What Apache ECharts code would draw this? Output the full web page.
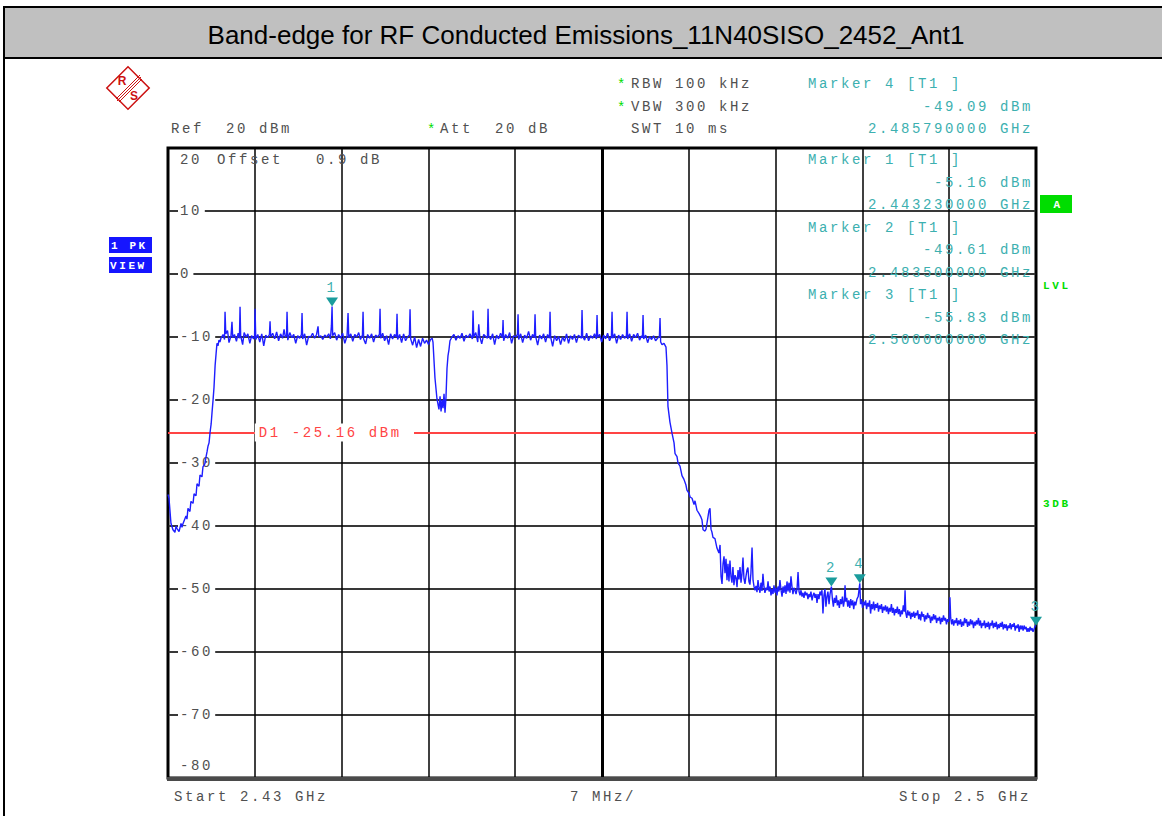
<!DOCTYPE html>
<html>
<head>
<meta charset="utf-8">
<title>Band-edge for RF Conducted Emissions_11N40SISO_2452_Ant1</title>
<script src="https://cdn.jsdelivr.net/npm/echarts@6/dist/echarts.min.js"></script>
<style>
  html, body { margin: 0; padding: 0; background: #fff; }
  #chart { width: 1162px; height: 816px; }
  /* analyzer screen font is a widely spaced courier */
  #chart text[style*="Liberation Mono"] { letter-spacing: 2.6px; }
</style>
</head>
<body>
<div id="chart"></div>
<script>
var titleText = 'Band-edge for RF Conducted Emissions_11N40SISO_2452_Ant1';

// sweep settings
var startGHz = 2.43;
var stopGHz = 2.5;
var spanMHz = 70;
var divMHz = 7;
var refLevel = 20;
var bottomLevel = -80;
var divDb = 10;
var displayLine = -25.16;

// trace 1 (PK): [offset from start, MHz], [level, dBm]
var trace = [
  [0.00,-35.0],[0.08,-35.6],[0.24,-39.6],[0.40,-40.6],[0.56,-41.0],[0.65,-40.0],[0.73,-40.4],[0.89,-40.9],
  [1.05,-39.6],[1.13,-40.2],[1.20,-39.7],[1.45,-38.4],[1.53,-38.9],[1.61,-37.2],[1.77,-37.7],[1.85,-36.1],
  [2.02,-36.4],[2.10,-34.9],[2.26,-35.2],[2.34,-33.3],[2.50,-33.7],[2.58,-31.9],[2.74,-32.2],[2.82,-30.6],
  [2.98,-30.1],[3.06,-29.1],[3.15,-28.2],[3.23,-27.3],[3.31,-26.8],[3.40,-25.0],[3.48,-23.8],[3.55,-22.0],
  [3.63,-20.1],[3.71,-18.0],[3.80,-14.5],[3.88,-12.6],[3.95,-11.0],[4.03,-11.4],[4.11,-10.5],[4.19,-10.8],
  // first block
  [4.27,-10.2],[4.44,-9.6],[4.56,-10.4],[4.60,-6.0],[4.66,-9.5],[4.80,-9.0],[4.92,-10.9],[5.08,-9.8],
  [5.16,-7.6],[5.22,-10.1],[5.36,-9.6],[5.52,-10.7],[5.66,-9.4],[5.76,-10.2],[5.81,-5.2],[5.86,-9.8],
  [6.02,-11.2],[6.14,-9.3],[6.30,-10.0],[6.44,-9.5],[6.60,-11.0],[6.74,-9.8],[6.90,-10.3],[6.98,-9.9],
  [7.02,-5.5],[7.08,-10.4],[7.24,-9.6],[7.40,-10.8],[7.56,-9.5],[7.72,-11.4],[7.88,-9.7],[8.04,-10.1],
  [8.18,-9.6],[8.23,-7.5],[8.28,-10.0],[8.44,-9.4],[8.60,-10.3],[8.76,-9.2],[8.92,-10.6],[9.08,-9.5],
  [9.24,-10.2],[9.36,-8.8],[9.46,-10.0],[9.56,-9.7],[9.60,-6.0],[9.66,-10.5],[9.82,-9.3],[9.98,-10.1],
  [10.14,-9.6],[10.30,-11.0],[10.46,-9.8],[10.62,-10.2],[10.76,-9.6],[10.81,-6.2],[10.86,-10.3],[11.02,-9.5],
  [11.18,-11.3],[11.34,-9.9],[11.50,-10.0],[11.66,-9.4],[11.82,-10.2],[11.98,-9.6],[12.10,-8.3],[12.16,-10.0],
  [12.32,-9.8],[12.48,-10.4],[12.64,-9.7],[12.80,-10.0],[12.96,-9.5],[13.10,-10.3],[13.18,-8.2],[13.23,-5.16],
  [13.28,-9.8],[13.44,-9.3],[13.60,-10.5],[13.76,-9.6],[13.92,-10.2],[14.08,-9.4],[14.26,-11.0],[14.44,-9.8],
  [14.52,-6.2],[14.58,-10.1],[14.74,-9.5],[14.90,-10.7],[15.06,-9.6],[15.22,-10.0],[15.38,-9.3],[15.52,-10.4],
  [15.68,-9.7],[15.73,-6.0],[15.78,-10.3],[15.94,-11.1],[16.10,-9.6],[16.26,-10.2],[16.42,-9.5],[16.58,-10.8],
  [16.74,-9.7],[16.90,-10.0],[17.05,-9.6],[17.10,-5.5],[17.15,-10.2],[17.31,-9.4],[17.47,-10.6],[17.63,-9.8],
  [17.79,-11.2],[17.95,-9.5],[18.11,-10.3],[18.27,-9.6],[18.42,-10.0],[18.47,-6.3],[18.52,-10.4],[18.68,-9.6],
  [18.84,-10.9],[19.00,-9.5],[19.16,-10.6],[19.32,-10.0],[19.47,-9.7],[19.52,-5.6],[19.57,-10.3],[19.73,-11.3],
  [19.89,-10.0],[20.05,-11.7],[20.21,-10.4],[20.37,-11.5],[20.53,-10.2],[20.69,-11.0],[20.85,-10.5],[21.01,-11.2],
  [21.17,-10.4],[21.30,-10.2],
  // gap between the two blocks
  [21.37,-10.8],[21.53,-16.5],[21.69,-19.8],[21.85,-21.5],[21.94,-19.4],[22.02,-21.8],[22.10,-20.0],[22.18,-21.3],
  [22.26,-19.0],[22.34,-22.0],[22.42,-19.5],[22.50,-15.0],[22.58,-13.0],[22.66,-12.0],[22.74,-10.6],
  // second block
  [22.90,-10.0],[23.06,-9.6],[23.22,-10.5],[23.39,-9.8],[23.55,-10.2],[23.71,-9.4],[23.87,-10.7],[24.03,-9.7],
  [24.19,-10.1],[24.35,-9.5],[24.55,-10.3],[24.60,-5.8],[24.66,-10.0],[24.82,-9.3],[24.98,-10.8],[25.06,-8.0],
  [25.14,-9.9],[25.30,-11.1],[25.46,-9.6],[25.76,-10.2],[25.81,-5.5],[25.86,-9.8],[26.02,-10.4],[26.18,-9.5],
  [26.34,-11.2],[26.50,-9.7],[26.66,-10.3],[26.82,-9.4],[26.97,-10.1],[27.02,-7.3],[27.07,-10.6],[27.23,-9.6],
  [27.39,-10.2],[27.55,-9.3],[27.71,-11.0],[27.87,-9.8],[28.03,-10.0],[28.18,-9.6],[28.23,-6.4],[28.28,-10.4],
  [28.44,-9.5],[28.60,-10.9],[28.76,-9.7],[28.92,-10.2],[29.08,-9.1],[29.24,-10.5],[29.40,-9.6],[29.55,-10.1],
  [29.60,-6.4],[29.65,-9.9],[29.81,-11.3],[29.97,-9.7],[30.13,-10.3],[30.29,-9.5],[30.45,-10.8],[30.61,-9.6],
  [30.76,-10.2],[30.81,-6.0],[30.86,-10.0],[31.02,-11.5],[31.18,-9.8],[31.34,-10.6],[31.50,-9.9],[31.66,-11.2],
  [31.82,-10.0],[31.98,-10.7],[32.14,-9.5],[32.30,-11.0],[32.46,-9.8],[32.62,-10.4],[32.78,-9.6],[32.94,-10.9],
  [33.10,-9.7],[33.34,-10.2],[33.39,-5.7],[33.44,-9.9],[33.60,-10.5],[33.76,-9.4],[33.92,-10.6],[34.08,-9.8],
  [34.24,-10.2],[34.40,-9.5],[34.55,-10.3],[34.60,-6.5],[34.65,-10.0],[34.81,-9.6],[34.97,-10.8],[35.13,-9.7],
  [35.29,-10.3],[35.45,-9.4],[35.61,-10.6],[35.76,-9.9],[35.81,-6.0],[35.86,-10.2],[36.02,-9.5],[36.18,-11.0],
  [36.34,-9.7],[36.50,-10.4],[36.66,-9.6],[36.82,-10.2],[36.97,-9.8],[37.02,-6.0],[37.07,-10.3],[37.23,-9.5],
  [37.39,-10.7],[37.55,-9.6],[37.71,-10.1],[37.87,-9.4],[38.03,-10.5],[38.19,-9.8],[38.26,-10.1],[38.31,-6.5],
  [38.36,-10.3],[38.52,-9.7],[38.68,-10.9],[38.84,-9.9],[39.00,-10.4],[39.16,-9.8],[39.32,-10.6],[39.48,-10.2],
  [39.63,-9.9],[39.68,-7.0],[39.73,-10.8],[39.84,-11.2],[40.00,-11.0],[40.16,-11.6],
  // upper band edge roll-off
  [40.24,-14.5],[40.32,-21.0],[40.48,-23.5],[40.65,-25.3],[40.81,-26.8],[40.89,-28.5],[41.05,-29.0],[41.13,-30.0],
  [41.29,-30.5],[41.45,-32.0],[41.61,-32.6],[41.77,-33.5],[41.85,-34.3],[42.02,-34.8],[42.10,-35.4],[42.26,-35.6],
  [42.42,-36.6],[42.50,-36.0],[42.66,-37.5],[42.82,-38.0],[42.98,-38.6],[43.06,-39.0],[43.15,-40.6],[43.31,-40.8],
  [43.39,-40.5],[43.55,-38.5],[43.63,-37.5],[43.71,-37.2],[43.79,-40.5],[43.87,-41.0],[43.95,-41.8],[44.11,-42.0],
  [44.27,-43.5],[44.43,-44.3],[44.52,-43.0],[44.60,-48.0],[44.68,-49.2],[44.76,-46.0],[44.84,-44.8],[44.92,-47.5],
  [45.00,-45.2],[45.08,-48.6],[45.16,-46.0],[45.24,-48.8],[45.32,-45.5],[45.40,-48.0],[45.48,-49.0],[45.56,-46.5],
  [45.64,-49.4],[45.73,-47.8],[45.81,-48.2],[45.89,-49.7],[45.97,-47.0],[46.05,-48.5],[46.13,-46.5],[46.21,-49.0],
  [46.29,-47.6],[46.37,-45.0],[46.45,-48.4],[46.53,-49.2],[46.61,-48.0],[46.69,-47.0],[46.77,-46.6],[46.85,-48.8],
  [46.93,-49.3],[47.01,-47.5],[47.10,-43.4],[47.18,-48.6],[47.26,-49.6],[47.34,-50.2],[47.42,-49.5],[47.50,-50.5],
  [47.58,-48.6],[47.66,-49.8],[47.74,-50.6],[47.82,-49.0],[47.90,-50.3],[47.98,-47.6],[48.06,-49.6],[48.14,-50.6],
  [48.23,-49.8],[48.31,-50.2],[48.39,-48.8],[48.47,-50.4],[48.55,-49.6],[48.63,-51.0],[48.71,-50.0],[48.79,-50.8],
  [48.87,-49.4],[48.95,-50.6],[49.03,-49.8],[49.11,-51.0],[49.19,-49.6],[49.27,-50.4],[49.35,-48.6],[49.44,-50.2],
  [49.52,-51.2],[49.60,-49.6],[49.68,-50.6],[49.76,-49.4],[49.84,-50.8],[49.92,-48.8],[50.00,-50.4],[50.08,-49.0],
  [50.16,-50.6],[50.24,-48.0],[50.32,-49.6],[50.40,-50.8],[50.48,-49.8],[50.56,-50.2],[50.65,-50.8],[50.73,-50.0],
  [50.81,-47.3],[50.89,-50.4],[50.97,-51.0],[51.05,-50.2],[51.13,-51.2],[51.21,-50.6],[51.29,-51.4],[51.37,-50.4],
  [51.45,-51.0],[51.53,-50.6],[51.61,-51.6],[51.69,-50.8],[51.77,-51.3],[51.85,-50.4],[51.94,-51.8],[52.02,-51.0],
  [52.10,-50.6],[52.18,-51.4],[52.26,-50.8],[52.34,-52.2],[52.42,-50.8],[52.50,-51.6],[52.58,-50.4],[52.66,-51.0],
  [52.74,-50.2],[52.82,-53.9],[52.90,-51.0],[52.98,-50.0],[53.06,-52.8],[53.14,-51.2],[53.22,-50.4],[53.31,-52.4],
  [53.39,-50.8],[53.50,-49.61],[53.58,-51.6],[53.66,-52.8],[53.74,-51.4],[53.82,-52.2],[53.90,-51.0],[53.98,-52.6],
  [54.06,-51.8],[54.14,-53.0],[54.23,-51.6],[54.31,-52.4],[54.39,-51.2],[54.47,-52.8],[54.55,-51.8],[54.60,-49.4],
  [54.66,-52.0],[54.74,-51.4],[54.82,-52.8],[54.90,-51.8],[54.98,-53.0],[55.06,-51.6],[55.14,-52.6],[55.22,-51.8],
  [55.30,-53.2],[55.38,-52.0],[55.46,-52.6],[55.56,-51.6],[55.66,-51.2],[55.79,-49.09],[55.85,-52.4],[55.93,-51.6],
  [56.01,-53.0],[56.10,-52.0],[56.18,-52.6],[56.26,-51.8],[56.34,-53.2],[56.42,-52.2],[56.50,-52.8],[56.58,-51.8],
  [56.66,-53.9],[56.74,-52.4],[56.82,-53.2],[56.90,-52.0],[56.98,-53.4],[57.06,-52.4],[57.14,-53.0],[57.22,-52.2],
  [57.30,-53.6],[57.38,-52.6],[57.46,-53.2],[57.54,-52.4],[57.62,-53.8],[57.70,-52.8],[57.78,-53.4],[57.86,-52.6],
  [57.94,-53.6],[58.02,-52.8],[58.10,-54.0],[58.18,-53.0],[58.26,-53.6],[58.34,-52.4],[58.42,-53.8],[58.50,-53.0],
  [58.58,-54.2],[58.66,-53.2],[58.74,-53.8],[58.82,-52.8],[58.90,-54.0],[58.98,-53.2],[59.06,-54.4],[59.14,-53.4],
  [59.22,-54.0],[59.30,-52.6],[59.38,-53.6],[59.44,-50.2],[59.50,-53.8],[59.58,-54.6],[59.66,-53.4],[59.74,-54.2],
  [59.82,-53.6],[59.90,-54.8],[59.98,-53.8],[60.06,-54.4],[60.14,-53.6],[60.22,-54.6],[60.30,-53.8],[60.38,-54.2],
  [60.46,-53.4],[60.54,-54.8],[60.62,-54.0],[60.70,-55.0],[60.78,-53.6],[60.86,-54.4],[60.94,-54.0],[61.02,-55.2],
  [61.10,-54.2],[61.18,-54.8],[61.26,-53.8],[61.34,-54.6],[61.42,-54.2],[61.50,-55.4],[61.58,-54.4],[61.66,-55.0],
  [61.74,-54.0],[61.82,-54.8],[61.90,-54.2],[61.98,-55.4],[62.06,-54.6],[62.14,-55.0],[62.22,-54.4],[62.30,-55.6],
  [62.38,-54.6],[62.46,-55.2],[62.54,-54.2],[62.62,-55.0],[62.70,-54.6],[62.78,-55.6],[62.86,-54.8],[62.94,-55.2],
  [63.01,-54.4],[63.06,-51.3],[63.12,-54.6],[63.20,-55.6],[63.28,-54.8],[63.36,-55.8],[63.44,-55.0],[63.52,-55.4],
  [63.60,-54.6],[63.68,-55.8],[63.76,-55.0],[63.84,-55.6],[63.92,-54.8],[64.00,-56.0],[64.08,-55.2],[64.16,-55.8],
  [64.24,-54.6],[64.32,-55.4],[64.40,-54.8],[64.48,-56.0],[64.56,-55.2],[64.64,-55.8],[64.72,-54.8],[64.80,-55.6],
  [64.88,-55.0],[64.96,-56.2],[65.04,-55.2],[65.12,-55.8],[65.20,-55.0],[65.28,-55.6],[65.36,-54.6],[65.44,-55.8],
  [65.52,-55.0],[65.60,-56.2],[65.68,-55.4],[65.76,-55.8],[65.84,-55.0],[65.92,-56.2],[66.00,-55.4],[66.08,-56.0],
  [66.16,-55.2],[66.24,-56.4],[66.32,-55.4],[66.40,-55.8],[66.48,-55.0],[66.56,-56.2],[66.64,-55.4],[66.72,-56.0],
  [66.80,-55.2],[66.88,-56.4],[66.96,-55.6],[67.04,-56.2],[67.12,-55.4],[67.20,-56.0],[67.28,-55.2],[67.36,-56.4],
  [67.44,-55.6],[67.52,-56.2],[67.60,-55.6],[67.68,-56.6],[67.76,-55.8],[67.84,-56.2],[67.92,-55.4],[68.00,-56.4],
  [68.08,-55.6],[68.16,-56.0],[68.24,-55.4],[68.32,-56.6],[68.40,-55.8],[68.48,-56.2],[68.56,-55.6],[68.64,-56.8],
  [68.72,-55.8],[68.80,-56.4],[68.88,-55.8],[68.96,-56.6],[69.04,-55.8],[69.12,-56.4],[69.20,-56.0],[69.28,-56.8],
  [69.36,-56.2],[69.44,-56.8],[69.52,-56.0],[69.60,-56.6],[69.68,-56.2],[69.76,-56.8],[69.84,-56.4],[69.92,-55.9],
  [70.00,-55.83]
];

// markers (T1)
var markerNames = ['1', '2', '3', '4'];
var markerOffsets = [13.23, 53.5, 70, 55.79];   // MHz from start
var markerLevels = [-5.16, -49.61, -55.83, -49.09];

var MONO = "'Liberation Mono', monospace";
var GRAY = '#505050';
var TEAL = '#3cb0b0';
var GREEN = '#00dd00';

function txt(text, x, y, color, align, extra) {
  var st = {
    text: text, x: x, y: y, fill: color || GRAY,
    fontFamily: MONO, fontSize: 14,
    align: align || 'left', textAlign: align || 'left',
    verticalAlign: 'middle', textVerticalAlign: 'middle'
  };
  if (extra) for (var k in extra) st[k] = extra[k];
  return { type: 'text', z: 20, silent: true, style: st };
}

function markerInfo(i) {
  var ghz = (startGHz + markerOffsets[i] / 1000).toFixed(9);
  return [
    'Marker ' + markerNames[i] + ' [T1 ]',
    markerLevels[i].toFixed(2) + ' dBm',
    ghz + ' GHz'
  ];
}

var chart = echarts.init(document.getElementById('chart'), null, { renderer: 'svg' });

var option = {
  animation: false,
  backgroundColor: '#fff',
  grid: {
    left: 168, top: 148, width: 868, height: 630,
    show: true, borderColor: '#000', borderWidth: 3, backgroundColor: '#fff'
  },
  xAxis: {
    type: 'value', min: 0, max: spanMHz, interval: divMHz,
    axisLine: { show: false }, axisTick: { show: false }, axisLabel: { show: false },
    splitLine: { show: true, lineStyle: { color: '#000', width: 1.5 } }
  },
  yAxis: [{
    // grid lines
    type: 'value', min: bottomLevel, max: refLevel, interval: divDb, z: 0,
    axisLine: { show: false }, axisTick: { show: false }, axisLabel: { show: false },
    splitLine: { show: true, showMinLine: false, showMaxLine: false, lineStyle: { color: '#383838', width: 2 } }
  }, {
    // level labels, drawn over the grid lines
    type: 'value', min: bottomLevel, max: refLevel, interval: divDb, z: 1, position: 'left',
    axisLine: { show: false }, axisTick: { show: false }, splitLine: { show: false },
    axisLabel: {
      inside: true, margin: 10, color: GRAY, fontFamily: MONO, fontSize: 14,
      formatter: function (v) {
        var s = String(v);
        if (v === refLevel) return '{top|' + s + '}';
        if (v === bottomLevel) return '{bot|' + s + '}';
        return '{w' + s.length + '|' + s + '}';
      },
      rich: {
        w1: { backgroundColor: '#fff', padding: [1, 5, 1, 2] },
        w2: { backgroundColor: '#fff', padding: [1, 8, 1, 2] },
        w3: { backgroundColor: '#fff', padding: [1, 10, 1, 2] },
        top: { padding: [24, 0, 0, 2] },
        bot: { padding: [0, 0, 24, 2] }
      }
    }
  }],
  series: [{
    name: 'Trace 1',
    type: 'line',
    yAxisIndex: 0,
    data: trace,
    symbol: 'none',
    z: 5,
    lineStyle: { color: '#1e1eff', width: 1.4 },
    markLine: {
      silent: true, symbol: 'none', animation: false,
      label: { show: false },
      data: [
        { yAxis: displayLine, lineStyle: { color: '#ff4444', width: 2, type: 'solid' } },
        { xAxis: spanMHz / 2, lineStyle: { color: '#000', width: 3, type: 'solid' } }
      ]
    },
    markPoint: {
      symbol: 'triangle', symbolSize: [12, 9], symbolRotate: 180, symbolOffset: [0, '-50%'],
      itemStyle: { color: '#1a9c9c' },
      label: {
        show: true, position: 'top', distance: 3, color: TEAL,
        fontFamily: MONO, fontSize: 14,
        formatter: function (p) { return p.name; }
      },
      data: markerNames.map(function (n, i) {
        return { name: n, coord: [markerOffsets[i], markerLevels[i]] };
      })
    }
  }]
};
chart.setOption(option);

// annotations around the screen
var g = [];
g.push({ type: 'rect', z: 1, shape: { x: 4, y: 7, width: 1162, height: 51 },
  style: { fill: '#c0c0c0', stroke: '#000', lineWidth: 2 } });
g.push({ type: 'line', z: 1, shape: { x1: 4, y1: 6, x2: 4, y2: 816 },
  style: { stroke: '#000', lineWidth: 2 } });
g.push({ type: 'text', z: 2, style: {
  text: titleText, x: 586, y: 35, fill: '#000', fontFamily: "'Liberation Sans', Arial, sans-serif",
  fontSize: 26, align: 'center', textAlign: 'center', verticalAlign: 'middle', textVerticalAlign: 'middle' } });

// R&S logo
g.push({ type: 'group', x: 128, y: 88, z: 2, children: [
  { type: 'rect', rotation: Math.PI / 4, shape: { x: -15, y: -15, width: 30, height: 30 },
    style: { fill: 'none', stroke: '#cc1111', lineWidth: 1.5 } },
  { type: 'line', shape: { x1: 12, y1: -13, x2: -12, y2: 11 }, style: { stroke: '#cc1111', lineWidth: 1 } },
  { type: 'line', shape: { x1: 13, y1: -11, x2: -11, y2: 13 }, style: { stroke: '#cc1111', lineWidth: 1 } },
  { type: 'line', shape: { x1: 14, y1: -9, x2: -9, y2: 14 }, style: { stroke: '#cc1111', lineWidth: 1 } },
  { type: 'text', style: { text: 'R', x: -6, y: -7, fill: '#cc1111', fontFamily: "'Liberation Sans', sans-serif",
    fontSize: 12, fontWeight: 'bold', align: 'center', verticalAlign: 'middle' } },
  { type: 'text', style: { text: 'S', x: 6, y: 8, fill: '#cc1111', fontFamily: "'Liberation Sans', sans-serif",
    fontSize: 12, fontWeight: 'bold', align: 'center', verticalAlign: 'middle' } }
] });

// settings rows
g.push(txt('*', 617, 85, GREEN));
g.push(txt('RBW 100 kHz', 631, 84));
g.push(txt('*', 617, 108, GREEN));
g.push(txt('VBW 300 kHz', 631, 107));
g.push(txt('Ref  20 dBm', 171, 129));
g.push(txt('*', 427, 130, GREEN));
g.push(txt('Att  20 dB', 440, 129));
g.push(txt('SWT 10 ms', 631, 129));
g.push(txt('Offset   0.9 dB', 217, 160));

// marker readouts: marker 4 above the screen, 1..3 inside
var m4 = markerInfo(3);
g.push(txt(m4[0], 808, 84, TEAL));
g.push(txt(m4[1], 1033, 107, TEAL, 'right'));
g.push(txt(m4[2], 1033, 129, TEAL, 'right'));
[0, 1, 2].forEach(function (i) {
  var info = markerInfo(i);
  var y0 = 160 + i * 67.5;
  g.push(txt(info[0], 808, y0, TEAL));
  g.push(txt(info[1], 1033, y0 + 22.5, TEAL, 'right'));
  g.push(txt(info[2], 1033, y0 + 45, TEAL, 'right'));
});

// frequency axis texts
g.push(txt('Start ' + startGHz + ' GHz', 174, 797));
g.push(txt(divMHz + ' MHz/', 570, 797));
g.push(txt('Stop ' + stopGHz + ' GHz', 1031, 797, GRAY, 'right'));

// side annunciators
g.push({ type: 'rect', z: 2, shape: { x: 109, y: 237, width: 43, height: 16 }, style: { fill: '#1616ff' } });
g.push(txt('1 PK', 111, 245.5, '#fff', 'left', { fontSize: 11, fontWeight: 'bold' }));
g.push({ type: 'rect', z: 2, shape: { x: 109, y: 257, width: 43, height: 16 }, style: { fill: '#1616ff' } });
g.push(txt('VIEW', 110, 265.5, '#fff', 'left', { fontSize: 11, fontWeight: 'bold' }));
g.push({ type: 'rect', z: 2, shape: { x: 1040, y: 195, width: 32, height: 18 }, style: { fill: GREEN } });
g.push(txt('A', 1058, 204.5, '#fff', 'center', { fontSize: 11, fontWeight: 'bold' }));
g.push(txt('LVL', 1043, 286, GREEN, 'left', { fontSize: 11, fontWeight: 'bold' }));
g.push(txt('3DB', 1043, 504, GREEN, 'left', { fontSize: 11, fontWeight: 'bold' }));

// bottom edge of the screen is a heavier grey bar
var bl = chart.convertToPixel({ gridIndex: 0 }, [0, bottomLevel]);
var br = chart.convertToPixel({ gridIndex: 0 }, [spanMHz, bottomLevel]);
g.push({ type: 'line', z: 15, shape: { x1: bl[0] - 1, y1: bl[1] + 1, x2: br[0] + 1, y2: br[1] + 1 },
  style: { stroke: '#4a4a4a', lineWidth: 4 } });

// display line label, sits on the line with a white box
var d1 = chart.convertToPixel({ gridIndex: 0 }, [divMHz, displayLine]);
g.push(txt('D1 ' + displayLine.toFixed(2) + ' dBm', d1[0], d1[1], '#ff4444', 'left',
  { backgroundColor: '#fff', padding: [2, 46, 2, 4] }));

chart.setOption({ graphic: { elements: g } });
</script>
</body>
</html>
